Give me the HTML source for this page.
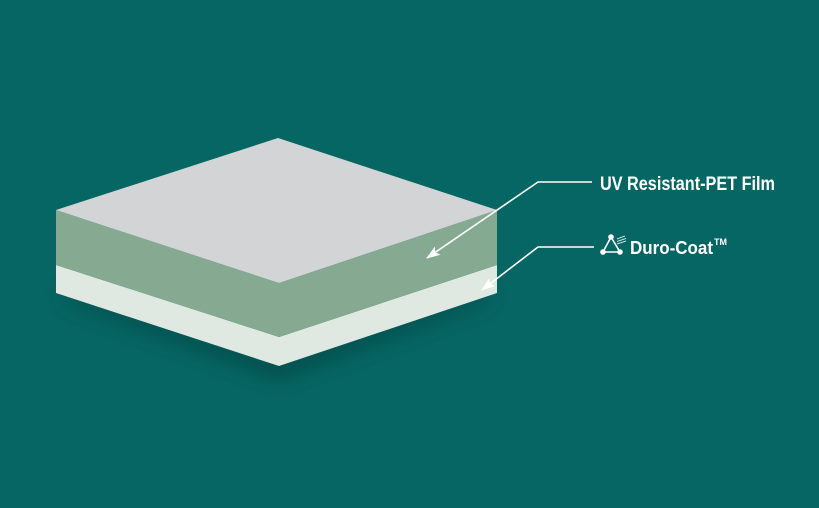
<!DOCTYPE html>
<html><head><meta charset="utf-8"><style>
html,body{margin:0;padding:0;background:#066663;}
svg{display:block}
</style></head><body>
<svg width="819" height="508" viewBox="0 0 819 508" xmlns="http://www.w3.org/2000/svg">
<defs>
<filter id="sh" x="-20%" y="-20%" width="140%" height="160%">
<feGaussianBlur stdDeviation="10"/>
</filter>
<marker id="ah" markerWidth="14" markerHeight="10" refX="13" refY="5" orient="auto" markerUnits="userSpaceOnUse">
<path d="M0,0 L14,5 L0,10 L3,5 Z" fill="#fff"/>
</marker>
</defs>
<rect width="819" height="508" fill="#066663"/>
<polygon points="66,300 279,378 487,300 487,290 279,360 66,290" fill="#033f3d" opacity="0.75" filter="url(#sh)"/>
<polygon points="56,265 279,337 497,265 497,293 279,366 56,293" fill="#dfe8e1"/>
<polygon points="56,210 279,283 497,210 497,265 279,337 56,265" fill="#85aa91"/>
<polygon points="278,138 497,210 279,283 56,210" fill="#d3d4d6"/>
<polyline points="592,182 538,182 427,258" fill="none" stroke="#fff" stroke-width="1.6" marker-end="url(#ah)"/>
<polyline points="594,247 538,247 482,290" fill="none" stroke="#fff" stroke-width="1.6" marker-end="url(#ah)"/>
<text x="600" y="190" font-family="Liberation Sans, sans-serif" font-weight="bold" font-size="19" fill="#fff" textLength="175" lengthAdjust="spacingAndGlyphs">UV Resistant-PET Film</text>
<g fill="#fff" stroke="#fff">
<polyline points="611,237 603,252 620,252 611,237" fill="none" stroke-width="1.6"/>
<circle cx="611" cy="237" r="2.8" stroke="none"/>
<circle cx="603" cy="252" r="2.8" stroke="none"/>
<circle cx="620" cy="252" r="2.8" stroke="none"/>
<line x1="617" y1="239" x2="625" y2="236" stroke-width="0.9"/>
<line x1="617" y1="241.5" x2="626" y2="238.5" stroke-width="0.9"/>
<line x1="617" y1="244" x2="626" y2="241" stroke-width="0.9"/>
</g>
<text x="630" y="254" font-family="Liberation Sans, sans-serif" font-weight="bold" font-size="18" fill="#fff" textLength="83" lengthAdjust="spacingAndGlyphs">Duro-Coat</text>
<text x="714" y="245" font-family="Liberation Sans, sans-serif" font-weight="bold" font-size="9" fill="#fff">TM</text>
</svg>
</body></html>
